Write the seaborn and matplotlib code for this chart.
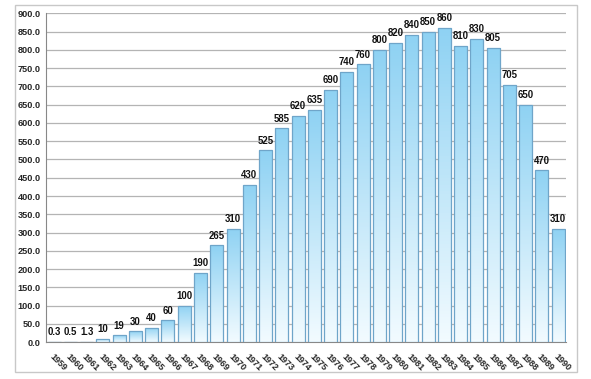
import matplotlib
matplotlib.use('Agg')
import matplotlib.pyplot as plt
import matplotlib.patches as mpatches
import pandas as pd
import seaborn as sb
import numpy as np

years = [str(y) for y in range(1959, 1991)]
values = [0.3, 0.5, 1.3, 10, 19, 30, 40, 60, 100, 190, 265, 310, 430, 525, 585,
          620, 635, 690, 740, 760, 800, 820, 840, 850, 860, 810, 830, 805, 705,
          650, 470, 310]
labels = ['0.3', '0.5', '1.3'] + [str(int(v)) for v in values[3:]]

df = pd.DataFrame({'year': years, 'value': values})

sb.set_style('white')
plt.rcParams['font.family'] = ['Liberation Sans Narrow', 'Liberation Sans', 'DejaVu Sans']

fig = plt.figure(figsize=(5.91, 3.79), dpi=100)
ax = fig.add_axes([0.078, 0.097, 0.880, 0.868])

# outer frame
fig.patches.append(mpatches.Rectangle((0.026, 0.018), 0.950, 0.970, transform=fig.transFigure,
                                      fill=False, ec='#c8c8c8', lw=1.0))

sb.barplot(data=df, x='year', y='value', color='#aee0f7', edgecolor='#6fa5c9',
           linewidth=0.9, width=0.8, ax=ax, zorder=3)

# gradient fill inside each bar
grad = np.linspace(0, 1, 100).reshape(-1, 1)
cmap = matplotlib.colors.LinearSegmentedColormap.from_list('g', ['#f2fbff', '#8fd2f3'])
for p in ax.patches:
    x0, y0 = p.get_x(), p.get_y()
    w, h = p.get_width(), p.get_height()
    if h <= 0:
        continue
    im = ax.imshow(grad, extent=[x0, x0 + w, y0, y0 + h], origin='lower', aspect='auto',
                   cmap=cmap, zorder=3.5)
    im.set_clip_path(p)
    p.set_facecolor('none')
    p.set_zorder(4)

for i, (v, lab) in enumerate(zip(values, labels)):
    ax.text(i, v + 13, lab, ha='center', va='bottom', fontsize=6.9, fontweight='bold', color='#111111')

ax.set_xlim(-0.5, len(years) - 0.5)
ax.set_ylim(0, 900)
ax.set_yticks(np.arange(0, 901, 50))
ax.set_yticklabels(['%.1f' % t for t in np.arange(0, 901, 50)], fontsize=6.6, fontweight='bold')
ax.yaxis.grid(True, color='#b4b4b4', lw=0.9, zorder=0)
ax.set_axisbelow(True)
ax.set_xlabel('')
ax.set_ylabel('')
ax.set_xticks(range(len(years)))
ax.set_xticklabels(years, rotation=-45, ha='left', rotation_mode='anchor', fontsize=6.5, fontweight='bold')
ax.set_xticks(np.arange(-0.5, len(years), 1), minor=True)
ax.tick_params(axis='x', which='major', length=0, pad=7)
ax.tick_params(axis='x', which='minor', length=3, color='#888888')
ax.tick_params(axis='y', length=0, pad=4)
for s in ['top', 'right']:
    ax.spines[s].set_visible(False)
ax.spines['left'].set_color('#888888')
ax.spines['bottom'].set_color('#888888')
ax.spines['left'].set_linewidth(0.8)
ax.spines['bottom'].set_linewidth(0.8)

fig.savefig('out.png', dpi=100)
